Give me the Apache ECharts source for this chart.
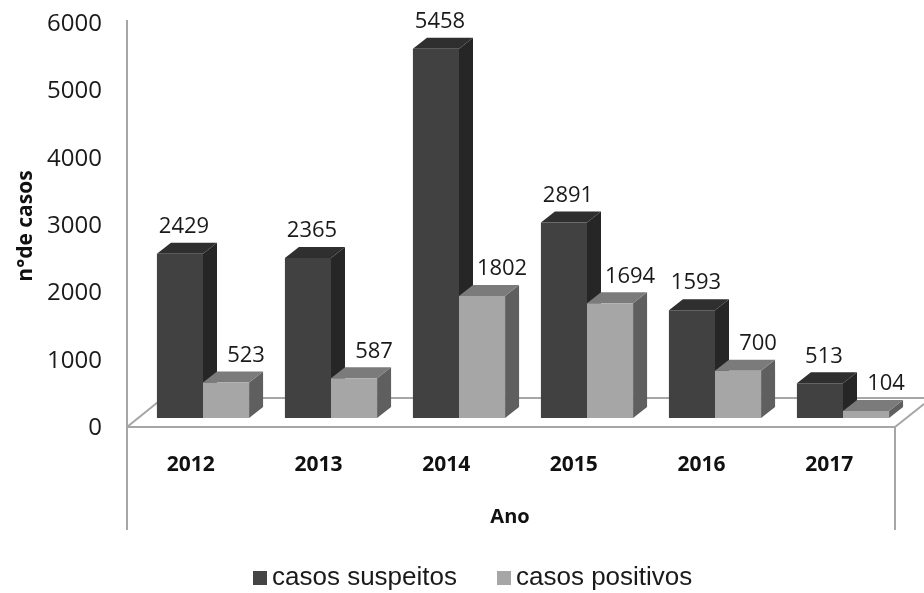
<!DOCTYPE html>
<html>
<head>
<meta charset="utf-8">
<script src="https://cdn.jsdelivr.net/npm/echarts@6/dist/echarts.min.js"></script>
<style>
  html, body { margin: 0; padding: 0; background: #fff; }
  #chart { width: 924px; height: 593px; }
</style>
</head>
<body>
<div id="chart"></div>
<script>
// Categories and values
const anos = ['2012', '2013', '2014', '2015', '2016', '2017'];
const casosSuspeitos = [2429, 2365, 5458, 2891, 1593, 513];
const casosPositivos = [523, 587, 1802, 1694, 700, 104];
const serieNomes = ['casos suspeitos', 'casos positivos'];

// Face shading for the pseudo-3D columns: [front, top, side]
const shades = [
  ['#414141', '#2f2f2f', '#262626'],
  ['#a6a6a6', '#7b7b7b', '#5f5f5f']
];
const DEPTH_X = 14, DEPTH_Y = -11;
const BAR_FRAC = 0.36;
const LABEL_SHIFT = [4, 20];

function renderBar3D(params, api) {
  const idx = api.value(0);
  const val = api.value(1);
  const base = api.coord([idx, 0]);
  const top = api.coord([idx, val]);
  const band = api.size([1, 0])[0];
  const bw = band * BAR_FRAC;
  const s = params.seriesIndex;
  const x0 = base[0] + (s === 0 ? -bw : 0);
  const x1 = x0 + bw;
  const yb = base[1], yt = top[1];
  const c = shades[s];
  return {
    type: 'group',
    children: [
      { type: 'polygon', shape: { points: [[x1, yb], [x1 + DEPTH_X, yb + DEPTH_Y], [x1 + DEPTH_X, yt + DEPTH_Y], [x1, yt]] },
        style: { fill: c[2] } },
      { type: 'polygon', shape: { points: [[x0, yt], [x0 + DEPTH_X, yt + DEPTH_Y], [x1 + DEPTH_X, yt + DEPTH_Y], [x1, yt]] },
        style: { fill: c[1] } },
      { type: 'rect', shape: { x: x0, y: yt, width: bw, height: yb - yt },
        style: { fill: c[0] } },
      { type: 'text', z2: 10,
        style: { text: String(val), x: x0 + bw / 2 + LABEL_SHIFT[s], y: yt + DEPTH_Y - 16,
                 align: 'center', verticalAlign: 'middle',
                 font: '22px "Open Sans"', fill: '#1a1a1a' } }
    ]
  };
}

const chart = echarts.init(document.getElementById('chart'));
const frameColor = '#a6a6a6';
chart.setOption({
  backgroundColor: '#ffffff',
  animation: false,
  grid: [
    { left: 139, right: 17, top: 12, bottom: 175 },
    { left: 127, right: 31, top: 24, bottom: 165 }
  ],
  xAxis: [
    { type: 'category', gridIndex: 0, data: anos, show: false },
    { type: 'category', gridIndex: 1, data: anos,
      axisLine: { show: false }, axisTick: { show: false },
      axisLabel: { margin: 27, fontSize: 21, fontWeight: 'bold', fontFamily: 'Open Sans', color: '#111' },
      name: 'Ano', nameLocation: 'middle', nameGap: 79,
      nameTextStyle: { fontSize: 20, fontWeight: 'bold', fontFamily: 'Open Sans', color: '#111' } }
  ],
  yAxis: [
    { type: 'value', gridIndex: 0, min: 0, max: 6000, interval: 1000, show: false },
    { type: 'value', gridIndex: 1, min: 0, max: 6000, interval: 1000,
      axisLine: { show: false }, axisTick: { show: false }, splitLine: { show: false },
      axisLabel: { margin: 25, fontSize: 24, fontFamily: 'Open Sans', color: '#1a1a1a',
                   formatter: v => String(v) },
      name: 'n°de casos', nameLocation: 'middle', nameGap: 80, nameRotate: 90,
      nameTextStyle: { fontSize: 21, fontWeight: 'bold', fontFamily: 'Open Sans', color: '#111' } }
  ],
  legend: {
    data: serieNomes, left: 253, top: 565, padding: 0, itemGap: 40,
    icon: 'rect', itemWidth: 14, itemHeight: 14,
    textStyle: { fontSize: 26, fontFamily: 'Liberation Sans', color: '#1a1a1a' }
  },
  // floor and wall outline
  graphic: [
    { type: 'line', z: 0, shape: { x1: 127, y1: 20, x2: 127, y2: 530 }, style: { stroke: frameColor, lineWidth: 2 } },
    { type: 'line', z: 0, shape: { x1: 895, y1: 427, x2: 895, y2: 530 }, style: { stroke: frameColor, lineWidth: 2 } },
    { type: 'line', z: 0, shape: { x1: 127, y1: 427, x2: 895, y2: 427 }, style: { stroke: frameColor, lineWidth: 2 } },
    { type: 'line', z: 0, shape: { x1: 127, y1: 427, x2: 163, y2: 398 }, style: { stroke: frameColor, lineWidth: 2 } },
    { type: 'line', z: 0, shape: { x1: 163, y1: 398, x2: 924, y2: 398 }, style: { stroke: frameColor, lineWidth: 2 } },
    { type: 'line', z: 0, shape: { x1: 895, y1: 427, x2: 924, y2: 404 }, style: { stroke: frameColor, lineWidth: 2 } }
  ],
  series: [
    { name: serieNomes[0], type: 'custom', xAxisIndex: 0, yAxisIndex: 0, z: 5,
      itemStyle: { color: '#454545' }, renderItem: renderBar3D,
      encode: { x: 0, y: 1 },
      data: casosSuspeitos.map((v, i) => [i, v]) },
    { name: serieNomes[1], type: 'custom', xAxisIndex: 0, yAxisIndex: 0, z: 6,
      itemStyle: { color: '#a6a6a6' }, renderItem: renderBar3D,
      encode: { x: 0, y: 1 },
      data: casosPositivos.map((v, i) => [i, v]) }
  ]
});
</script>
</body>
</html>
